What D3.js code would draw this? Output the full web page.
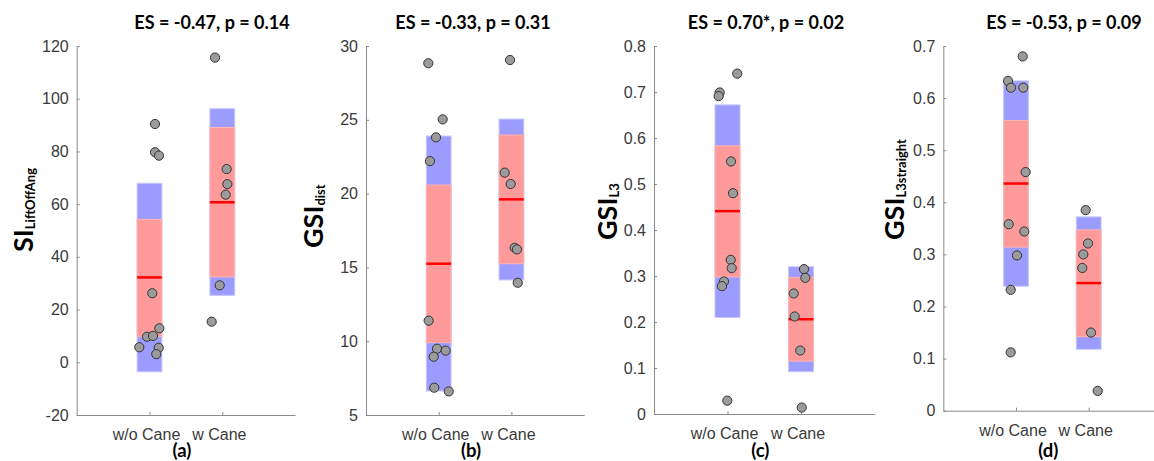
<!DOCTYPE html>
<html>
<head>
<meta charset="utf-8">
<script src="https://cdn.jsdelivr.net/npm/d3@7"></script>
<style>
  body { margin: 0; background: #fff; }
  svg { display: block; }
  .tick text { font-family: "Liberation Sans", Arial, sans-serif; font-size: 16px; fill: #3a3a3a; }
  .bold { font-family: Lato, "Open Sans", sans-serif; font-weight: bold; fill: #000; }
</style>
</head>
<body>
<svg width="1154" height="461"></svg>
<script>
// categories and labels
const groups = ['w/o Cane', 'w Cane'];
const letters = ['(a)', '(b)', '(c)', '(d)'];
const titles = ['ES = -0.47, p = 0.14', 'ES = -0.33, p = 0.31', 'ES = 0.70*, p = 0.02', 'ES = -0.53, p = 0.09'];
const labelMain = ['SI', 'GSI', 'GSI', 'GSI'];
const labelSub = ['LiftOffAng', 'dist', 'L3', 'L3straight'];

// y axes
const yDomains = [[-20, 120], [5, 30], [0, 0.8], [0, 0.7]];
const yTicks = [
    [-20, 0, 20, 40, 60, 80, 100, 120],
    [5, 10, 15, 20, 25, 30],
    [0, 0.1, 0.2, 0.3, 0.4, 0.5, 0.6, 0.7, 0.8],
    [0, 0.1, 0.2, 0.3, 0.4, 0.5, 0.6, 0.7]
];

// boxes: [w/o, w]
const outerBox = [
    [[-3.6, 67.9], [25.4, 96.2]],
    [[6.63, 23.9], [14.15, 25.05]],
    [[0.210, 0.672], [0.092, 0.320]],
    [[0.239, 0.633], [0.118, 0.372]]
];
const innerBox = [
    [[9.7, 54.2], [32.4, 89.1]],
    [[9.9, 20.58], [15.25, 23.97]],
    [[0.298, 0.583], [0.115, 0.297]],
    [[0.314, 0.557], [0.142, 0.347]]
];
const medians = [[32.2, 60.7], [15.25, 19.61], [0.441, 0.206], [0.436, 0.245]];

// individual subjects, w/o cane
const woValues = [
    [90.4, 79.7, 78.4, 26.2, 12.9, 9.7, 10.0, 5.7, 5.5, 3.1],
    [28.83, 25.03, 23.81, 22.2, 11.39, 9.49, 9.36, 8.95, 6.85, 6.6],
    [0.740, 0.699, 0.691, 0.549, 0.480, 0.335, 0.317, 0.288, 0.278, 0.029],
    [0.680, 0.633, 0.620, 0.620, 0.458, 0.358, 0.344, 0.298, 0.232, 0.112]
];
const woJitter = [
    [0.076, 0.076, 0.13, 0.038, 0.135, -0.034, 0.048, -0.14, 0.126, 0.093],
    [-0.143, 0.055, -0.037, -0.12, -0.138, -0.023, 0.096, -0.069, -0.061, 0.138],
    [0.133, -0.106, -0.12, 0.048, 0.075, 0.044, 0.057, -0.048, -0.075, -0.003],
    [0.092, -0.11, -0.069, 0.1, 0.133, -0.1, 0.114, 0.014, -0.073, -0.073]
];
// individual subjects, w cane
const wValues = [
    [115.6, 73.3, 67.6, 63.6, 29.2, 15.4],
    [29.05, 21.42, 20.65, 16.33, 16.22, 13.96],
    [0.315, 0.296, 0.262, 0.212, 0.138, 0.014],
    [0.385, 0.321, 0.300, 0.274, 0.150, 0.038]
];
const wJitter = [
    [-0.10, 0.06, 0.069, 0.047, -0.036, -0.146],
    [-0.019, -0.092, -0.01, 0.045, 0.077, 0.087],
    [0.041, 0.059, -0.099, -0.086, -0.01, 0.01],
    [-0.041, -0.01, -0.074, -0.088, 0.032, 0.124]
];

// panel layout
const panels = [
    {left: 76.7, width: 218.4, top: 46, bottom: 415, titleX: 212, labelX: 33, labelY: 252},
    {left: 366, width: 218.1, top: 46, bottom: 415, titleX: 473, labelX: 323, labelY: 248},
    {left: 654, width: 220.5, top: 46, bottom: 414, titleX: 766, labelX: 616.5, labelY: 240},
    {left: 943.3, width: 218.1, top: 46, bottom: 410.7, titleX: 1064, labelX: 904, labelY: 240}
];

const halfW = 0.17;
const svg = d3.select('svg');

function fmt(d) {
    return d === 0 ? '0' : (Number.isInteger(d) ? String(d) : d.toFixed(1));
}

panels.forEach((p, i) => {
    const x = d3.scaleLinear().domain([0, 3]).range([p.left, p.left + p.width]);
    const y = d3.scaleLinear().domain(yDomains[i]).range([p.bottom, p.top]);
    const g = svg.append('g');

    // boxes
    [0, 1].forEach(k => {
        const c = k + 1;
        g.append('rect')
            .attr('x', x(c - halfW)).attr('width', x(c + halfW) - x(c - halfW))
            .attr('y', y(outerBox[i][k][1])).attr('height', y(outerBox[i][k][0]) - y(outerBox[i][k][1]))
            .attr('fill', '#9c9cff').attr('stroke', '#c4c4ff').attr('stroke-width', 1);
        g.append('rect')
            .attr('x', x(c - halfW)).attr('width', x(c + halfW) - x(c - halfW))
            .attr('y', y(innerBox[i][k][1])).attr('height', y(innerBox[i][k][0]) - y(innerBox[i][k][1]))
            .attr('fill', '#ff9a9a').attr('stroke', '#ffb4b4').attr('stroke-width', 1);
        g.append('line')
            .attr('x1', x(c - halfW)).attr('x2', x(c + halfW))
            .attr('y1', y(medians[i][k])).attr('y2', y(medians[i][k]))
            .attr('stroke', '#ff0000').attr('stroke-width', 2.5);
    });

    // axes
    const yAxis = d3.axisLeft(y).tickValues(yTicks[i]).tickFormat(fmt)
        .tickSizeInner(-3).tickSizeOuter(0).tickPadding(8);
    const xAxis = d3.axisBottom(x).tickValues([1, 2]).tickFormat((d, j) => groups[j])
        .tickSizeInner(-3).tickSizeOuter(0).tickPadding(13.6);

    const ya = g.append('g').attr('transform', `translate(${p.left},0)`).call(yAxis);
    const xa = g.append('g').attr('transform', `translate(0,${p.bottom})`).call(xAxis);
    [ya, xa].forEach(a => {
        a.select('.domain').attr('stroke', '#8a8a8a');
        a.selectAll('.tick line').attr('stroke', '#8a8a8a');
    });
    xa.selectAll('.tick text').attr('dx', -3.5);

    // subjects
    const pts = woValues[i].map((v, j) => [1 + woJitter[i][j], v])
        .concat(wValues[i].map((v, j) => [2 + wJitter[i][j], v]));
    g.selectAll('circle').data(pts).enter().append('circle')
        .attr('cx', d => x(d[0])).attr('cy', d => y(d[1]))
        .attr('r', 4.6)
        .attr('fill', '#9b9b9b').attr('stroke', '#333').attr('stroke-width', 1);

    // title
    g.append('text').attr('class', 'bold')
        .attr('x', p.titleX).attr('y', 29)
        .attr('text-anchor', 'middle').attr('font-size', 18)
        .text(titles[i]);

    // letter under the axis
    g.append('text').attr('class', 'bold')
        .attr('x', (x(1) + x(2)) / 2 - 4).attr('y', 456.5)
        .attr('text-anchor', 'middle').attr('font-size', 18.5)
        .text(letters[i]);

    // y label with subscript
    const lab = g.append('text').attr('class', 'bold')
        .attr('transform', `translate(${p.labelX},${p.labelY}) rotate(-90)`)
        .attr('font-size', 27);
    lab.append('tspan').text(labelMain[i]);
    lab.append('tspan').attr('font-size', 13).attr('dy', 2).text(labelSub[i]);
});
</script>
</body>
</html>
